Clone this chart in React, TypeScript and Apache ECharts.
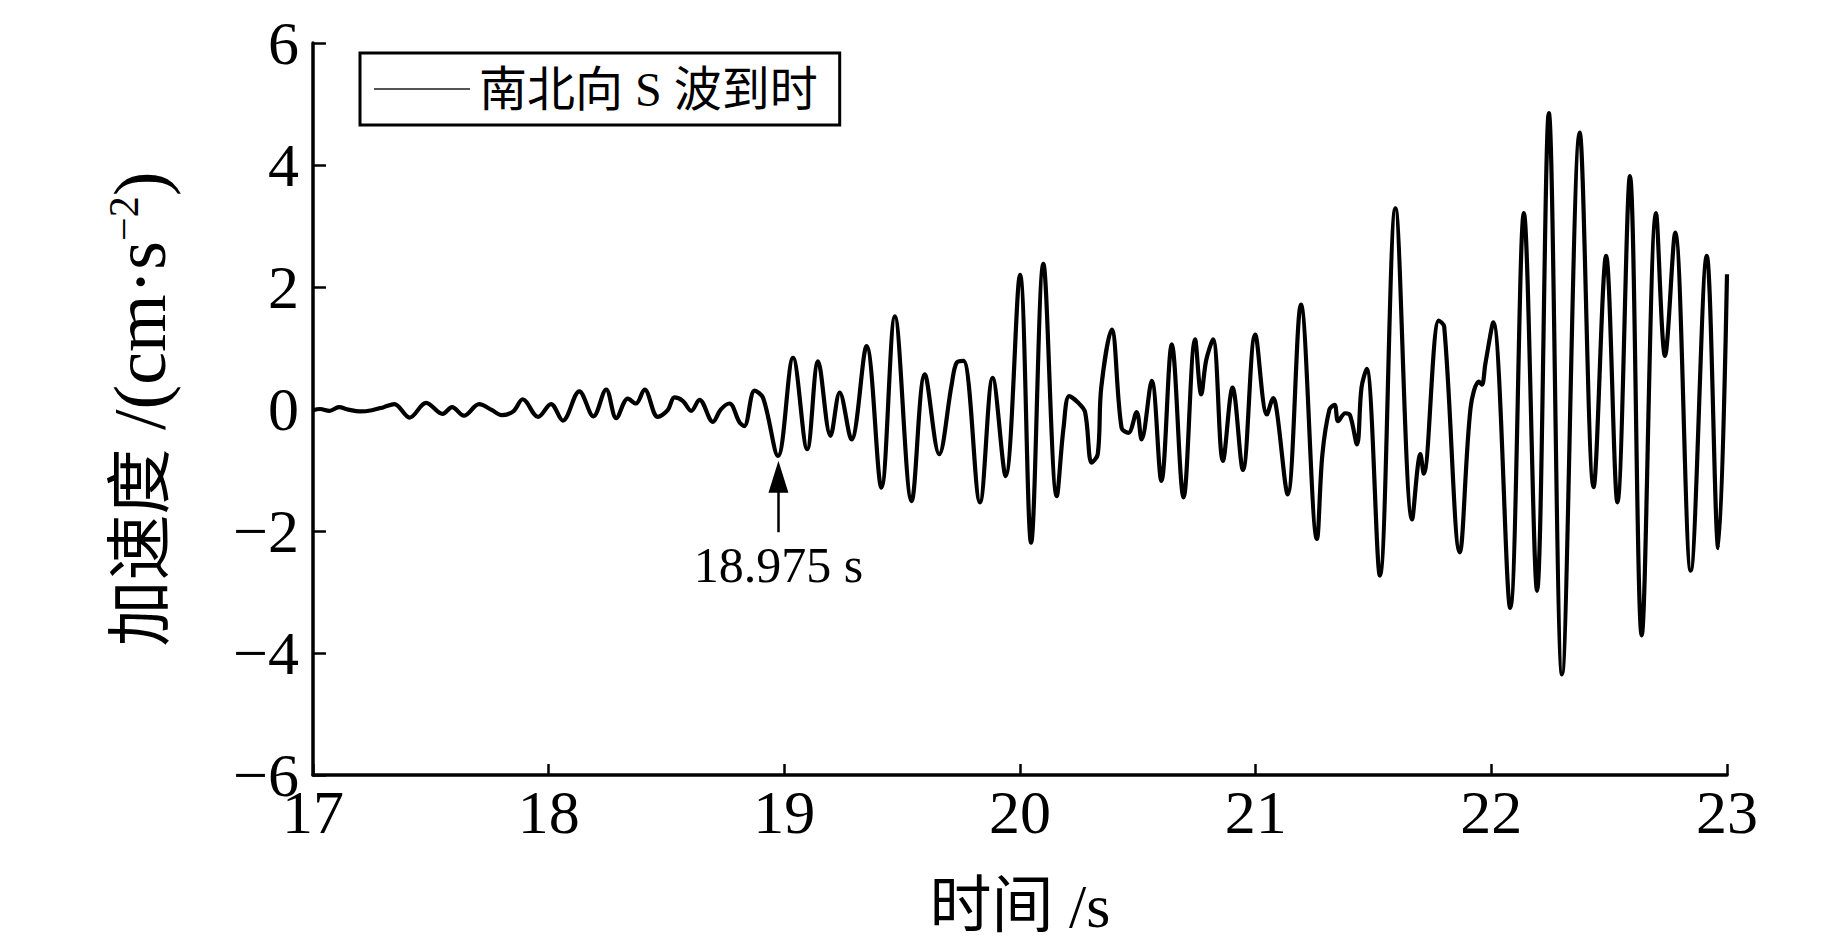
import React, { useEffect, useRef } from "react";
import * as echarts from "echarts";

// time (s)
const times: number[] = [
  17.0, 17.03, 17.07, 17.11, 17.15, 17.2, 17.25, 17.3, 17.345, 17.41,
  17.48, 17.55, 17.59, 17.64, 17.705, 17.76, 17.8, 17.85, 17.89, 17.955,
  18.01, 18.06, 18.13, 18.19, 18.244, 18.287, 18.336, 18.37, 18.407, 18.463,
  18.505, 18.534, 18.57, 18.605, 18.64, 18.697, 18.73, 18.767, 18.81, 18.83,
  18.874, 18.91, 18.973, 19.037, 19.097, 19.143, 19.196, 19.235, 19.285, 19.349,
  19.412, 19.469, 19.54, 19.596, 19.657, 19.71, 19.731, 19.76, 19.83, 19.884,
  19.939, 20.0, 20.047, 20.099, 20.156, 20.185, 20.209, 20.245, 20.276, 20.304,
  20.33, 20.345, 20.389, 20.431, 20.46, 20.495, 20.516, 20.559, 20.6, 20.644,
  20.694, 20.743, 20.769, 20.79, 20.819, 20.861, 20.902, 20.946, 20.998, 21.048,
  21.075, 21.09, 21.136, 21.192, 21.26, 21.283, 21.313, 21.335, 21.35, 21.38,
  21.4, 21.43, 21.449, 21.471, 21.527, 21.593, 21.664, 21.699, 21.713, 21.777,
  21.8, 21.866, 21.912, 21.947, 21.96, 21.975, 22.008, 22.08, 22.138, 22.194,
  22.244, 22.3, 22.375, 22.434, 22.487, 22.535, 22.588, 22.638, 22.699, 22.737,
  22.78, 22.846, 22.914, 22.963, 23.0,
];

// acceleration (cm·s^-2), south-north component
const accel: number[] = [
  -0.02, 0.0, -0.03, 0.03, -0.01, -0.04, -0.02, 0.03, 0.08, -0.14,
  0.1, -0.08, 0.03, -0.11, 0.08, -0.02, -0.1, -0.04, 0.16, -0.13,
  0.08, -0.19, 0.29, -0.12, 0.32, -0.15, 0.17, 0.09, 0.32, -0.13,
  -0.02, 0.19, 0.13, -0.03, 0.15, -0.21, -0.01, 0.09, -0.22, -0.28,
  0.3, 0.18, -0.77, 0.84, -0.66, 0.78, -0.44, 0.27, -0.5, 1.03,
  -1.29, 1.52, -1.51, 0.57, -0.74, 0.4, 0.76, 0.79, -1.53, 0.51,
  -1.1, 2.2, -2.19, 2.38, -1.43, -0.3, 0.21, 0.11, -0.05, -0.88,
  -0.74, 0.36, 1.3, -0.31, -0.39, -0.05, -0.5, 0.46, -1.18, 1.06,
  -1.45, 1.14, 0.24, 0.8, 1.14, -0.85, 0.35, -1.0, 1.22, -0.09,
  0.18, -0.04, -1.4, 1.71, -2.13, -0.75, -0.01, 0.07, -0.2, -0.07,
  -0.1, -0.58, 0.35, 0.66, -2.73, 3.29, -1.81, -0.74, -1.06, 1.45,
  1.35, -2.35, 0.02, 0.45, 0.4, 0.75, 1.42, -3.26, 3.21, -2.98,
  4.85, -4.35, 4.53, -1.28, 2.51, -1.53, 3.82, -3.71, 3.21, 0.87,
  2.89, -2.65, 2.51, -2.28, 2.21,
];

const seriesName = "南北向 S 波到时";
const xTitle = "时间 /s";
const yTitleCjk = "加速度";
const yTitleLatin = " /(cm·s";
const yTitleSup = "−2";
const xMin = 17;
const xMax = 23;
const xInterval = 1;
const yMin = -6;
const yMax = 6;
const yInterval = 2;

// S-wave arrival annotation
const arrivalTime = 18.975;
const arrivalLabel = "18.975 s";
const arrowTail = -2.02;
const arrowHeadCenter = -1.11;

const SERIF = "'Liberation Serif', 'Noto Sans CJK SC', serif";

export default function App() {
  const ref = useRef<HTMLDivElement>(null);

  useEffect(() => {
    if (!ref.current) return;
    const chart = echarts.init(ref.current, undefined, { renderer: "svg" });
    const data = times.map((t, i) => [t, accel[i]]);

    chart.setOption({
      animation: false,
      backgroundColor: "#ffffff",
      grid: { left: 313, right: 116, top: 43, bottom: 170, containLabel: false },
      legend: {
        left: 360,
        top: 53,
        orient: "horizontal",
        icon: "rect",
        itemWidth: 96,
        itemHeight: 2,
        itemGap: 10,
        padding: [12, 22, 12, 14],
        borderColor: "#000",
        borderWidth: 3,
        borderRadius: 0,
        backgroundColor: "#fff",
        itemStyle: { color: "#555", borderWidth: 0 },
        textStyle: { fontFamily: SERIF, fontSize: 48, color: "#000", padding: [0, 0, 0, 4] },
        data: [seriesName],
      },
      xAxis: {
        type: "value",
        min: xMin,
        max: xMax,
        interval: xInterval,
        name: xTitle,
        nameLocation: "middle",
        nameGap: 100,
        nameTextStyle: { fontFamily: SERIF, fontSize: 62, color: "#000" },
        axisLine: { show: true, onZero: false, lineStyle: { color: "#000", width: 3.5 } },
        axisTick: { show: true, inside: true, length: 11, lineStyle: { color: "#000", width: 2.5 } },
        axisLabel: { fontFamily: SERIF, fontSize: 62, color: "#000", margin: 6 },
        splitLine: { show: false },
      },
      yAxis: {
        type: "value",
        min: yMin,
        max: yMax,
        interval: yInterval,
        name: `{c|${yTitleCjk}}{m|${yTitleLatin}}{s|${yTitleSup}}{m|)}`,
        nameLocation: "middle",
        nameRotate: 90,
        nameGap: 136,
        nameTextStyle: {
          fontFamily: SERIF,
          fontSize: 66,
          color: "#000",
          rich: {
            c: { fontFamily: SERIF, fontSize: 66, color: "#000" },
            m: { fontFamily: SERIF, fontSize: 74, color: "#000" },
            s: { fontFamily: SERIF, fontSize: 42, color: "#000", verticalAlign: "top", padding: [0, 0, 28, 0] },
          },
        },
        axisLine: { show: true, onZero: false, lineStyle: { color: "#000", width: 3.5 } },
        axisTick: { show: true, inside: true, length: 13, lineStyle: { color: "#000", width: 2.5 } },
        axisLabel: {
          fontFamily: SERIF,
          fontSize: 62,
          color: "#000",
          margin: 14,
          formatter: (v: number) => (v < 0 ? "−" + Math.abs(v) : String(v)),
        },
        splitLine: { show: false },
      },
      series: [
        {
          name: seriesName,
          type: "line",
          data,
          showSymbol: false,
          symbol: "none",
          smooth: 0.35,
          lineStyle: { color: "#000", width: 4.2 },
          itemStyle: { color: "#000" },
          markLine: {
            silent: true,
            animation: false,
            symbol: ["none", "triangle"],
            symbolSize: [20, 32],
            lineStyle: { type: "solid", color: "#000", width: 2.5 },
            label: {
              show: true,
              position: "start",
              distance: 8,
              formatter: arrivalLabel,
              fontFamily: SERIF,
              fontSize: 50,
              color: "#000",
            },
            data: [
              [
                { coord: [arrivalTime, arrowTail], symbol: "none" },
                { coord: [arrivalTime, arrowHeadCenter], symbol: "triangle" },
              ],
            ],
          },
        },
      ],
    });

    return () => chart.dispose();
  }, []);

  return (
    <div
      ref={ref}
      style={{ position: "fixed", left: 0, top: 0, width: "1843px", height: "945px", background: "#fff" }}
    />
  );
}
